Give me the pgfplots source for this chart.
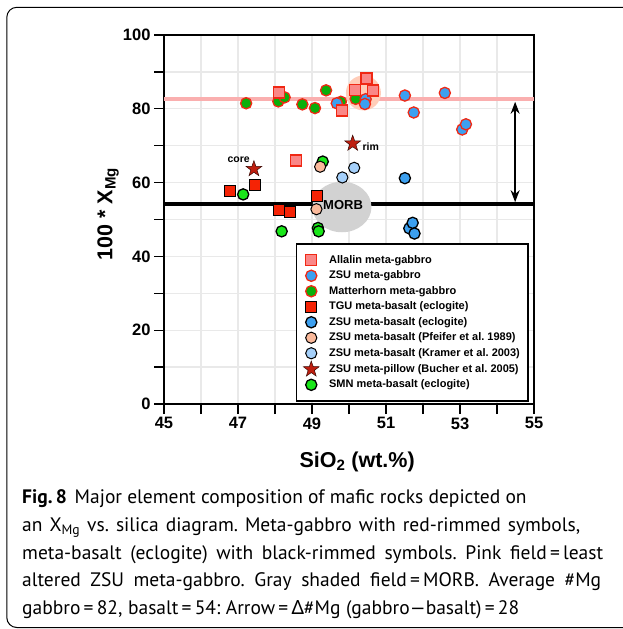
\documentclass[border=0pt]{standalone}
\usepackage{pgfplots}
\pgfplotsset{compat=1.18}
\usepackage{fontspec}
\setmainfont{Liberation Sans}
\newfontfamily\capfont{PT Sans}
\newfontfamily\grfont{Noto Sans}
\usetikzlibrary{arrows.meta}
\frenchspacing

\definecolor{allfill}{RGB}{250,135,135}
\definecolor{redge}{RGB}{240,40,20}
\definecolor{bluefill}{RGB}{60,160,240}
\definecolor{mattfill}{RGB}{10,175,10}
\definecolor{tgufill}{RGB}{245,35,5}
\definecolor{pfeifill}{RGB}{250,185,155}
\definecolor{kramfill}{RGB}{165,208,250}
\definecolor{starfill}{RGB}{190,30,15}
\definecolor{smnfill}{RGB}{25,230,25}
\definecolor{pinkline}{RGB}{250,175,175}
\definecolor{pinkfield}{RGB}{255,205,185}
\definecolor{morb}{RGB}{210,210,210}
\definecolor{gridc}{RGB}{233,233,233}

\pgfdeclareplotmark{fstar}{%
  \pgfpathmoveto{\pgfqpointpolar{90}{\pgfplotmarksize}}%
  \pgfpathlineto{\pgfqpointpolar{126}{0.40\pgfplotmarksize}}%
  \pgfpathlineto{\pgfqpointpolar{162}{\pgfplotmarksize}}%
  \pgfpathlineto{\pgfqpointpolar{198}{0.40\pgfplotmarksize}}%
  \pgfpathlineto{\pgfqpointpolar{234}{\pgfplotmarksize}}%
  \pgfpathlineto{\pgfqpointpolar{270}{0.40\pgfplotmarksize}}%
  \pgfpathlineto{\pgfqpointpolar{306}{\pgfplotmarksize}}%
  \pgfpathlineto{\pgfqpointpolar{342}{0.40\pgfplotmarksize}}%
  \pgfpathlineto{\pgfqpointpolar{18}{\pgfplotmarksize}}%
  \pgfpathlineto{\pgfqpointpolar{54}{0.40\pgfplotmarksize}}%
  \pgfpathclose
  \pgfusepathqfillstroke
}

\pgfplotsset{
  allalin/.style={only marks, mark=square*, mark size=5.5pt, draw=redge, fill=allfill, line width=1.3pt},
  zsug/.style={only marks, mark=*, mark size=5.6pt, draw=redge, fill=bluefill, line width=1.3pt},
  matt/.style={only marks, mark=*, mark size=5.6pt, draw=redge, fill=mattfill, line width=1.3pt},
  tgu/.style={only marks, mark=square*, mark size=5.5pt, draw=black, fill=tgufill, line width=1.3pt},
  zsub/.style={only marks, mark=*, mark size=5.6pt, draw=black, fill=bluefill, line width=1.3pt},
  pfei/.style={only marks, mark=*, mark size=5.6pt, draw=black, fill=pfeifill, line width=1.0pt},
  kram/.style={only marks, mark=*, mark size=5.6pt, draw=black, fill=kramfill, line width=1.0pt},
  bstar/.style={only marks, mark=fstar, mark size=8.3pt, draw=black!70!starfill, fill=starfill, line width=0.5pt},
  smn/.style={only marks, mark=*, mark size=5.6pt, draw=black, fill=smnfill, line width=1.3pt},
}

\pgfplotstableread{
x y
48.11 84.4
48.57 66.0
49.82 79.5
50.16 85.1
50.47 88.2
50.65 85.0
}\allalin
\pgfplotstableread{
x y
49.67 81.5
50.45 82.6
50.43 81.3
51.51 83.6
51.75 79.0
52.59 84.3
53.06 74.4
53.16 75.8
}\zsug
\pgfplotstableread{
x y
47.22 81.5
48.09 82.0
48.26 83.1
48.74 81.2
49.08 80.2
49.38 85.0
49.78 81.9
50.18 82.7
}\matt
\pgfplotstableread{
x y
46.79 57.7
47.45 59.4
49.14 56.4
48.11 52.6
48.41 52.0
}\tgu
\pgfplotstableread{
x y
51.51 61.2
51.63 47.6
51.72 49.1
51.77 46.2
}\zsub
\pgfplotstableread{
x y
49.22 64.3
49.12 52.8
}\pfei
\pgfplotstableread{
x y
49.82 61.4
50.14 64.0
}\kram
\pgfplotstableread{
x y
47.43 63.7
50.10 70.6
}\bstar
\pgfplotstableread{
x y
47.14 56.8
49.29 65.7
48.18 46.8
49.16 47.7
49.18 46.8
}\smn

\begin{document}
\begin{tikzpicture}[x=1pt,y=1pt]
\useasboundingbox (0,0) rectangle (622,-629);
\draw[line width=1pt, rounded corners=10pt] (640,-7.3) -- (6.8,-7.3) -- (6.8,-627.5) -- (640,-627.5);
\begin{axis}[
  at={(164pt,-404pt)}, anchor=south west, scale only axis,
  width=370pt, height=369pt,
  xmin=45, xmax=55, ymin=0, ymax=100,
  xtick={45,47,...,55}, minor xtick={46,48,...,54},
  ytick={0,20,...,100}, minor ytick={10,30,...,90},
  grid=both, grid style={gridc, line width=1.3pt}, minor grid style={gridc, line width=1.3pt},
  tick align=outside, tick pos=left,
  major tick length=10pt, minor tick length=10pt,
  every tick/.style={black, line width=1.3pt},
  minor tick style={black, line width=1.3pt},
  axis line style={line width=1.3pt},
  /pgf/number format/assume math mode=true,
  ticklabel style={font=\fontsize{16.5}{16.5}\selectfont\bfseries},
  xlabel={SiO\textsubscript{2} (wt.\%)},
  ylabel={100 * X\textsubscript{Mg}},
  xlabel style={at={(axis description cs:0.522,-0.157)}, anchor=center, font=\fontsize{21.5}{21.5}\selectfont\bfseries},
  ylabel style={at={(axis description cs:-0.151,0.515)}, anchor=center, font=\fontsize{21.5}{21.5}\selectfont\bfseries},
  legend style={at={(axis cs:48.56,0.62)}, anchor=south west, draw=black, line width=1.3pt, fill=white,
    font=\fontsize{11}{11}\selectfont\bfseries, inner xsep=7pt, inner ysep=8.5pt, row sep=0pt,
    nodes={inner sep=1pt, text height=9.5pt, text depth=4pt},
    /tikz/every odd column/.append style={column sep=9pt}},
  legend cell align=left,
  legend image code/.code={\draw[#1] plot coordinates {(0pt,0pt)};},
]
\addplot[pinkline, line width=4pt, forget plot] coordinates {(45,82.7) (55,82.7)};
\addplot[black, line width=4pt, forget plot] coordinates {(45,54.1) (55,54.1)};
\fill[pinkfield] (axis cs:50.39,84.3) circle [radius=17.5pt];
\fill[morb] (axis cs:49.81,53.4) ellipse [x radius=29.5pt, y radius=25.3pt];
\node[font=\fontsize{13}{13}\selectfont\bfseries] at (axis cs:49.84,54.0) {MORB};
\node[font=\fontsize{10.5}{10.5}\selectfont\bfseries] at (axis cs:47.02,66.1) {core};
\node[font=\fontsize{10.5}{10.5}\selectfont\bfseries] at (axis cs:50.59,69.7) {rim};
\draw[{Stealth[length=12pt,width=9pt]}-{Stealth[length=12pt,width=9pt]}, line width=1.6pt] (axis cs:54.49,81.9) -- (axis cs:54.49,54.7);

\addplot[smn, forget plot] table {\smn};
\addplot[tgu, forget plot] table {\tgu};
\addplot[zsub, forget plot] table {\zsub};
\addplot[pfei, forget plot] table {\pfei};
\addplot[kram, forget plot] table {\kram};
\addplot[bstar, forget plot] table {\bstar};
\addplot[matt, forget plot] table {\matt};
\addplot[zsug, forget plot] table {\zsug};
\addplot[allalin, forget plot] table {\allalin};

\addlegendimage{allalin}\addlegendentry{Allalin meta-gabbro}
\addlegendimage{zsug}\addlegendentry{ZSU meta-gabbro}
\addlegendimage{matt}\addlegendentry{Matterhorn meta-gabbro}
\addlegendimage{tgu}\addlegendentry{TGU meta-basalt (eclogite)}
\addlegendimage{zsub}\addlegendentry{ZSU meta-basalt (eclogite)}
\addlegendimage{pfei}\addlegendentry{ZSU meta-basalt (Pfeifer et al. 1989)}
\addlegendimage{kram}\addlegendentry{ZSU meta-basalt (Kramer et al. 2003)}
\addlegendimage{bstar}\addlegendentry{ZSU meta-pillow (Bucher et al. 2005)}
\addlegendimage{smn}\addlegendentry{SMN meta-basalt (eclogite)}
\end{axis}
\begin{scope}[every node/.style={anchor=base west, inner sep=0pt, font=\capfont\fontsize{19.5}{19.5}\selectfont}]
\node at (22,-503) {\textbf{Fig.\,8}\hspace{0.4em}Major element composition of mafic rocks depicted on};
\node at (22,-531) {\makebox[558pt][s]{an X\textsubscript{Mg} vs. silica diagram. Meta-gabbro with red-rimmed symbols,}};
\node at (22,-559) {\makebox[581pt][s]{meta-basalt (eclogite) with black-rimmed symbols. Pink field\,=\,least}};
\node at (22,-586) {\makebox[579pt][s]{altered ZSU meta-gabbro. Gray shaded field\,=\,MORB. Average \#Mg}};
\node at (22,-614) {\makebox[497pt][s]{gabbro\,=\,82, basalt\,=\,54: Arrow\,=\,{\grfont Δ}\#Mg (gabbro—basalt)\,=\,28}};
\end{scope}
\end{tikzpicture}
\end{document}
